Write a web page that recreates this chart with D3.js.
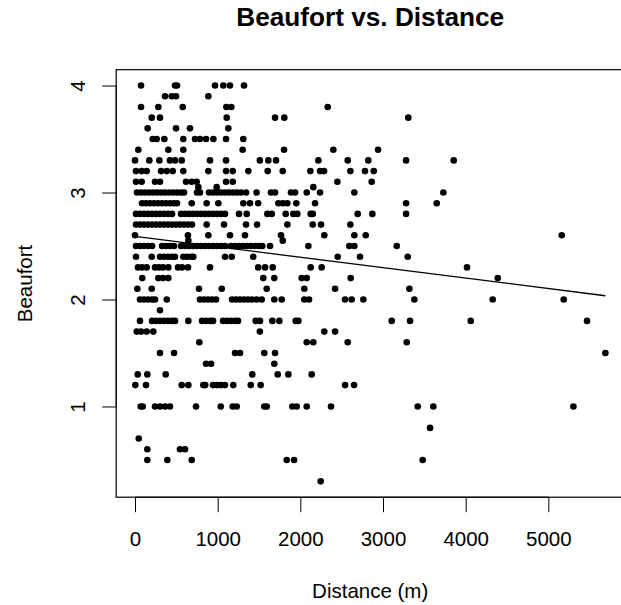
<!DOCTYPE html>
<html>
<head>
<meta charset="utf-8">
<script src="https://cdn.jsdelivr.net/npm/d3@7"></script>
<style>
  body { margin: 0; background: #fff; }
  text { font-family: "Liberation Sans", Arial, Helvetica, sans-serif; fill: #000; }
</style>
</head>
<body>
<svg id="chart" width="621" height="605"></svg>
<script>
// Beaufort levels and the distances (m) observed at each level
const beaufortLevels = [4.0, 3.9, 3.8, 3.7, 3.6, 3.5, 3.4, 3.3, 3.2, 3.1, 3.05, 3.0, 2.9, 2.8, 2.7, 2.6, 2.55, 2.5, 2.4, 2.3, 2.2, 2.1, 2.0, 1.9, 1.8, 1.7, 1.6, 1.5, 1.4, 1.3, 1.2, 1.0, 0.8, 0.7, 0.6, 0.5, 0.3];
const distancesByLevel = [
  [73, 484, 508, 968, 1068, 1149, 1319],
  [363, 444, 496, 887],
  [73, 282, 577, 1105, 1165, 2331],
  [202, 302, 1109, 1694, 1806, 3306],
  [153, 496, 665, 1129],
  [214, 262, 355, 584, 726, 786, 859, 948, 1101, 1310],
  [40, 403, 584, 1302, 1803, 2399, 2940],
  [0, 173, 294, 423, 484, 565, 907, 1101, 1510, 1613, 1706, 2218, 2573, 2822, 3279, 3855],
  [12, 81, 141, 315, 384, 456, 584, 887, 1101, 1182, 1371, 1605, 1787, 2121, 2238, 2287, 2605, 2782, 2888],
  [12, 81, 242, 302, 617, 686, 746, 1101, 1182, 2448, 2863],
  [766, 988, 2157],
  [24, 73, 121, 169, 218, 266, 315, 363, 411, 460, 508, 557, 593, 750, 786, 895, 944, 992, 1040, 1089, 1137, 1186, 1234, 1282, 1343, 1470, 1645, 1694, 1887, 1936, 2077, 2238, 2653, 3730],
  [85, 133, 182, 230, 278, 327, 375, 424, 472, 508, 686, 867, 1008, 1310, 1391, 1490, 1734, 1787, 1842, 1951, 2178, 3279, 3650],
  [12, 60, 109, 157, 206, 254, 302, 351, 399, 448, 557, 605, 653, 702, 750, 798, 847, 895, 944, 992, 1040, 1089, 1258, 1351, 1601, 1654, 1823, 1915, 1963, 2125, 2150, 2694, 2871, 3279],
  [12, 60, 109, 157, 206, 254, 302, 351, 399, 448, 496, 544, 593, 641, 690, 867, 1077, 1343, 1476, 1843, 2150, 2250, 2605],
  [0, 640, 887, 1149, 1330, 1766, 2290, 2653, 2791, 5162],
  [645, 1787],
  [12, 60, 109, 157, 206, 327, 375, 424, 472, 557, 605, 653, 702, 750, 798, 847, 895, 944, 992, 1040, 1089, 1161, 1210, 1258, 1307, 1355, 1403, 1452, 1500, 1540, 1633, 2097, 2593, 2653, 3166],
  [12, 202, 302, 351, 399, 448, 484, 584, 629, 678, 705, 1089, 1170, 1430, 2452, 2722, 3299],
  [36, 85, 141, 242, 290, 339, 403, 520, 569, 641, 907, 1490, 1573, 1666, 2125, 2258, 4016],
  [88, 282, 339, 403, 1552, 1685, 2016, 2077, 2609, 4388],
  [28, 202, 774, 1049, 1593, 2048, 2420, 3319],
  [60, 109, 157, 206, 242, 384, 786, 835, 883, 932, 980, 1174, 1222, 1270, 1319, 1367, 1415, 1472, 1533, 1685, 1775, 2048, 2105, 2541, 2621, 2762, 3379, 4327, 5186],
  [302],
  [60, 206, 254, 302, 351, 399, 448, 484, 645, 811, 859, 907, 944, 1065, 1113, 1161, 1210, 1246, 1460, 1512, 1661, 1746, 1944, 1976, 3105, 3327, 4061, 5468],
  [21, 73, 141, 221, 1510, 2290, 2420],
  [778, 2077, 2157, 2573, 3287],
  [302, 472, 1210, 1270, 1564, 1694, 5690],
  [859, 920, 1685],
  [33, 149, 371, 1419, 1726, 1855, 2137],
  [4, 133, 565, 645, 826, 850, 944, 992, 1040, 1089, 1189, 1400, 1520, 2541, 2650],
  [69, 93, 242, 302, 363, 423, 738, 1037, 1182, 1230, 1564, 1593, 1903, 1956, 2077, 2371, 3420, 3609, 5303],
  [3569],
  [45],
  [149, 544, 605],
  [149, 391, 686, 1835, 1924, 3480],
  [2246]
];

// fitted line, read at both ends
const fitDistance = [0, 5690];
const fitBeaufort = [2.59, 2.035];

const xTicks = [0, 1000, 2000, 3000, 4000, 5000];
const yTicks = [1, 2, 3, 4];

const points = [];
beaufortLevels.forEach((b, i) => {
  distancesByLevel[i].forEach(d => points.push({ distance: d, beaufort: b }));
});

// R style: pad data range by 4% on each side
function padded(ext) {
  const r = ext[1] - ext[0];
  return [ext[0] - 0.04 * r, ext[1] + 0.04 * r];
}

const box = { left: 116.2, right: 624.2, top: 69.7, bottom: 497.2 };

const x = d3.scaleLinear()
  .domain(padded(d3.extent(points, d => d.distance)))
  .range([box.left, box.right]);

const y = d3.scaleLinear()
  .domain(padded(d3.extent(points, d => d.beaufort)))
  .range([box.bottom, box.top]);

const svg = d3.select("#chart");

// x axis
const xAxis = svg.append("g")
  .attr("transform", "translate(0," + box.bottom + ")")
  .call(d3.axisBottom(x).tickValues(xTicks).tickSize(15).tickPadding(0).tickFormat(d3.format("d")));
xAxis.select(".domain").attr("d", "M" + x(xTicks[0]) + ",0H" + x(xTicks[xTicks.length - 1]));
xAxis.selectAll("text")
  .attr("y", 49).attr("dy", null)
  .style("font-size", "20.5px")
  .style("font-family", "'Liberation Sans', Arial, sans-serif");

// y axis, labels turned like R's default
const yAxis = svg.append("g")
  .attr("transform", "translate(" + box.left + ",0)")
  .call(d3.axisLeft(y).tickValues(yTicks).tickSize(14).tickFormat(d3.format("d")));
yAxis.select(".domain").attr("d", "M0," + y(yTicks[0]) + "V" + y(yTicks[yTicks.length - 1]));
yAxis.selectAll("text")
  .attr("x", null).attr("dy", null)
  .attr("text-anchor", "middle")
  .attr("transform", "translate(" + (85 - box.left) + ",0) rotate(-90)")
  .style("font-size", "20.5px")
  .style("font-family", "'Liberation Sans', Arial, sans-serif");

svg.selectAll(".domain, .tick line").attr("stroke", "#000").attr("stroke-width", 1);

// plot box
svg.append("rect")
  .attr("x", box.left).attr("y", box.top)
  .attr("width", box.right - box.left).attr("height", box.bottom - box.top)
  .attr("fill", "none").attr("stroke", "#000").attr("stroke-width", 1.2);

// points
svg.append("g").selectAll("circle")
  .data(points)
  .join("circle")
  .attr("cx", d => x(d.distance))
  .attr("cy", d => y(d.beaufort))
  .attr("r", 3.3)
  .attr("fill", "#000");

// regression line
const fit = fitDistance.map((d, i) => [d, fitBeaufort[i]]);
svg.append("path")
  .datum(fit)
  .attr("fill", "none")
  .attr("stroke", "#000")
  .attr("stroke-width", 1.3)
  .attr("d", d3.line().x(d => x(d[0])).y(d => y(d[1])));

const midX = (box.left + box.right) / 2;
const midY = (box.top + box.bottom) / 2;

svg.append("text")
  .attr("x", midX).attr("y", 25.7)
  .attr("text-anchor", "middle")
  .style("font-size", "26.2px").style("font-weight", "bold")
  .text("Beaufort vs. Distance");

svg.append("text")
  .attr("x", midX).attr("y", 598)
  .attr("text-anchor", "middle")
  .style("font-size", "20.5px")
  .text("Distance (m)");

svg.append("text")
  .attr("transform", "translate(32," + midY + ") rotate(-90)")
  .attr("text-anchor", "middle")
  .style("font-size", "20.5px")
  .text("Beaufort");
</script>
</body>
</html>
